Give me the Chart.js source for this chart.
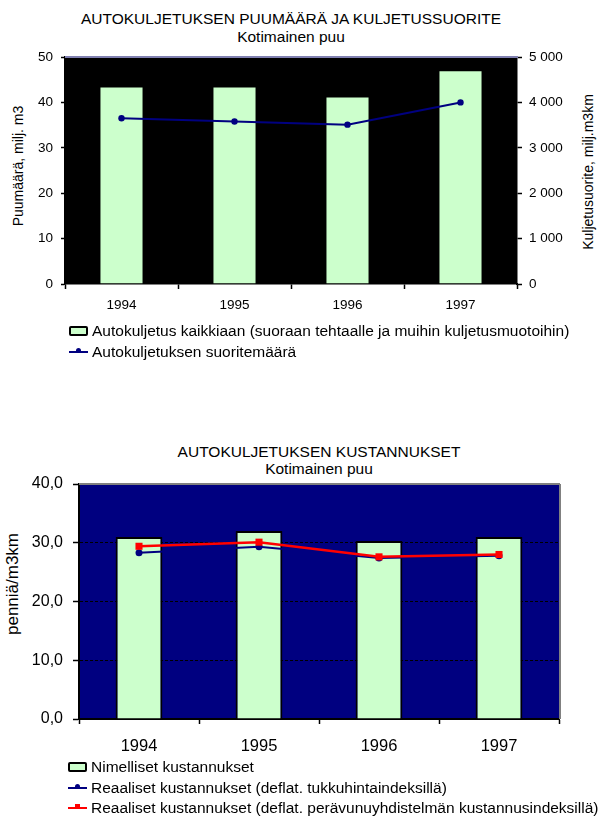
<!DOCTYPE html>
<html><head><meta charset="utf-8">
<script src="https://cdn.jsdelivr.net/npm/chart.js@4/dist/chart.umd.min.js"></script>
<style>
html,body{margin:0;padding:0;background:#fff;}
body{width:606px;height:816px;position:relative;overflow:hidden;font-family:"Liberation Sans",Arial,sans-serif;color:#000;}
.abs{position:absolute;white-space:nowrap;}
.ctr{transform:translate(-50%,-50%);}
.rot{transform:translate(-50%,-50%) rotate(-90deg);}
canvas{position:absolute;left:0;}
.lg{position:absolute;display:flex;align-items:center;height:18px;white-space:nowrap;font-size:15.5px;z-index:2;}
.mk{width:19px;height:12px;position:relative;margin-right:4px;flex:none;}
</style></head><body>

<div class="abs ctr" style="left:291px;top:19px;font-size:15.5px;">AUTOKULJETUKSEN PUUMÄÄRÄ JA KULJETUSSUORITE</div>
<div class="abs ctr" style="left:291px;top:37px;font-size:15.5px;">Kotimainen puu</div>
<div class="abs rot" style="left:18px;top:166px;font-size:14px;">Puumäärä, milj. m3</div>
<div class="abs rot" style="left:588px;top:172px;font-size:14px;">Kuljetusuorite, milj.m3km</div>
<canvas id="c1" width="606" height="330" style="top:0;"></canvas>

<div class="abs ctr" style="left:319px;top:452px;font-size:15.5px;">AUTOKULJETUKSEN KUSTANNUKSET</div>
<div class="abs ctr" style="left:319px;top:469px;font-size:15.5px;">Kotimainen puu</div>
<div class="abs rot" style="left:13px;top:584px;font-size:17px;">penniä/m3km</div>
<canvas id="c2" width="606" height="330" style="top:440px;"></canvas>

<div id="legends"></div>

<script>
// ---- data ----
const years = ['1994', '1995', '1996', '1997'];
const puumaara = [43.5, 43.5, 41.3, 47.1];          // milj. m3 (left axis)
const suorite = [3650, 3580, 3510, 4000];           // milj. m3km (right axis)
const yTicks1 = ['0', '10', '20', '30', '40', '50'];
const y1Ticks1 = ['0', '1 000', '2 000', '3 000', '4 000', '5 000'];

const nimelliset = [31.0, 32.0, 30.3, 31.0];
const realTukku = [28.3, 29.3, 27.4, 27.8];
const realKust = [29.4, 30.1, 27.6, 28.0];
const yTicks2 = ['0,0', '10,0', '20,0', '30,0', '40,0'];

const lblBar1 = 'Autokuljetus kaikkiaan (suoraan tehtaalle ja muihin kuljetusmuotoihin)';
const lblLine1 = 'Autokuljetuksen suoritemäärä';
const lblBar2 = 'Nimelliset kustannukset';
const lblBlue2 = 'Reaaliset kustannukset (deflat. tukkuhintaindeksillä)';
const lblRed2 = 'Reaaliset kustannukset (deflat. perävunuyhdistelmän kustannusindeksillä)';

Chart.defaults.font.family = '"Liberation Sans", Arial, sans-serif';
Chart.defaults.color = '#000';

const plotFrame = {
  id: 'plotFrame',
  beforeDraw(chart, args, o) {
    const {ctx, chartArea: a} = chart;
    ctx.save();
    ctx.fillStyle = o.bg;
    ctx.fillRect(a.left, a.top, a.right - a.left, a.bottom - a.top);
    ctx.restore();
  },
  beforeDatasetsDraw(chart, args, o) {
    const {ctx, chartArea: a} = chart;
    ctx.save();
    ctx.lineWidth = 2;
    if (o.top) { ctx.strokeStyle = o.top; ctx.beginPath(); ctx.moveTo(a.left, a.top); ctx.lineTo(a.right + 1, a.top); ctx.stroke(); }
    if (o.right) { ctx.strokeStyle = o.right; ctx.beginPath(); ctx.moveTo(a.right + 1, a.top); ctx.lineTo(a.right + 1, a.bottom); ctx.stroke(); }
    ctx.restore();
  }
};

const c1 = new Chart(document.getElementById('c1'), {
  type: 'bar',
  data: {
    labels: years,
    datasets: [
      {type: 'line', label: lblLine1, data: suorite, yAxisID: 'y1', borderColor: '#000080', backgroundColor: '#000080',
       borderWidth: 2, pointRadius: 3.2, pointBackgroundColor: '#000080', pointBorderWidth: 0, tension: 0, order: 0},
      {type: 'bar', label: lblBar1, data: puumaara, yAxisID: 'y', backgroundColor: '#CCFFCC', borderColor: '#000',
       borderWidth: 1, barPercentage: 0.39, categoryPercentage: 1, order: 1}
    ]
  },
  options: {
    responsive: false, animation: false, devicePixelRatio: 1,
    layout: {padding: {top: 57, left: 0, right: 0, bottom: 0}},
    plugins: {legend: {display: false}, tooltip: {enabled: false},
      plotFrame: {bg: '#000', top: '#8080b0', right: null}},
    scales: {
      x: {
        grid: {display: true, drawOnChartArea: false, drawTicks: true, tickLength: 5, tickColor: '#000', tickWidth: 1.5, offset: true},
        border: {color: '#000', width: 1.5},
        ticks: {color: '#000', font: {size: 13.5}, padding: 8, maxRotation: 0},
        afterFit: s => { s.height = 46; }
      },
      y: {
        position: 'left', min: 0, max: 50,
        ticks: {stepSize: 10, color: '#000', font: {size: 13.5}, padding: 8, callback: (v, i) => yTicks1[i]},
        grid: {drawOnChartArea: false, tickLength: 4, tickColor: '#000', tickWidth: 1.5},
        border: {color: '#000', width: 1.5},
        afterFit: s => { s.width = 65; }
      },
      y1: {
        position: 'right', min: 0, max: 5000,
        ticks: {stepSize: 1000, color: '#000', font: {size: 13.5}, padding: 7, callback: (v, i) => y1Ticks1[i]},
        grid: {drawOnChartArea: false, tickLength: 5, tickColor: '#000', tickWidth: 1.5},
        border: {color: '#000', width: 1.5},
        afterFit: s => { s.width = 89; }
      }
    }
  },
  plugins: [plotFrame]
});

const c2 = new Chart(document.getElementById('c2'), {
  type: 'bar',
  data: {
    labels: years,
    datasets: [
      {type: 'line', label: lblRed2, data: realKust, borderColor: '#FF0000', backgroundColor: '#FF0000',
       borderWidth: 2.5, pointStyle: 'rect', pointRadius: 5, pointBackgroundColor: '#FF0000', pointBorderWidth: 0, tension: 0, order: 0},
      {type: 'line', label: lblBlue2, data: realTukku, borderColor: '#000080', backgroundColor: '#000080',
       borderWidth: 2, pointRadius: 3.5, pointBackgroundColor: '#000080', pointBorderWidth: 0, tension: 0, order: 1},
      {type: 'bar', label: lblBar2, data: nimelliset, backgroundColor: '#CCFFCC', borderColor: '#000',
       borderWidth: 2, barPercentage: 0.39, categoryPercentage: 1, order: 2}
    ]
  },
  options: {
    responsive: false, animation: false, devicePixelRatio: 1,
    layout: {padding: {top: 44, left: 0, right: 47, bottom: 0}},
    plugins: {legend: {display: false}, tooltip: {enabled: false},
      plotFrame: {bg: '#000080', top: '#808080', right: '#808080'}},
    scales: {
      x: {
        grid: {display: true, drawOnChartArea: false, drawTicks: true, tickLength: 5, tickColor: '#000', tickWidth: 1.5, offset: true},
        border: {color: '#000', width: 2},
        ticks: {color: '#000', font: {size: 16.5}, padding: 13, maxRotation: 0},
        afterFit: s => { s.height = 51; }
      },
      y: {
        position: 'left', min: 0, max: 40,
        ticks: {stepSize: 10, color: '#000', font: {size: 16}, padding: 10, callback: (v, i) => yTicks2[i]},
        grid: {drawOnChartArea: true, color: '#000', lineWidth: 1, tickLength: 6, tickColor: '#000', tickWidth: 1.5},
        border: {color: '#000', width: 2, dash: [3, 2]},
        afterFit: s => { s.width = 79; }
      }
    }
  },
  plugins: [plotFrame]
});

// ---- HTML legends built from the datasets ----
function legendRow(x, yc, ds, kind) {
  const row = document.createElement('div');
  row.className = 'lg';
  row.style.left = x + 'px';
  row.style.top = (yc - 9) + 'px';
  const mk = document.createElement('div');
  mk.className = 'mk';
  if (kind === 'box') {
    mk.innerHTML = '<div style="position:absolute;left:0;top:1px;width:15px;height:6px;border:2px solid #000;border-radius:2px;background:' + ds.backgroundColor + '"></div>';
  } else {
    const isRect = ds.pointStyle === 'rect';
    mk.innerHTML = '<div style="position:absolute;left:0;top:5px;width:19px;height:2px;background:' + ds.borderColor + '"></div>' +
      '<div style="position:absolute;left:7px;top:2px;width:5px;height:5px;' + (isRect ? '' : 'border-radius:50%;') + 'background:' + ds.borderColor + '"></div>';
  }
  const t = document.createElement('span');
  t.textContent = ds.label;
  row.appendChild(mk);
  row.appendChild(t);
  document.getElementById('legends').appendChild(row);
}
const d1 = c1.data.datasets, d2 = c2.data.datasets;
legendRow(69, 331, d1[1], 'box');
legendRow(69, 352, d1[0], 'line');
legendRow(68, 767, d2[2], 'box');
legendRow(68, 788, d2[1], 'line');
legendRow(68, 808, d2[0], 'line');
</script>
</body></html>
